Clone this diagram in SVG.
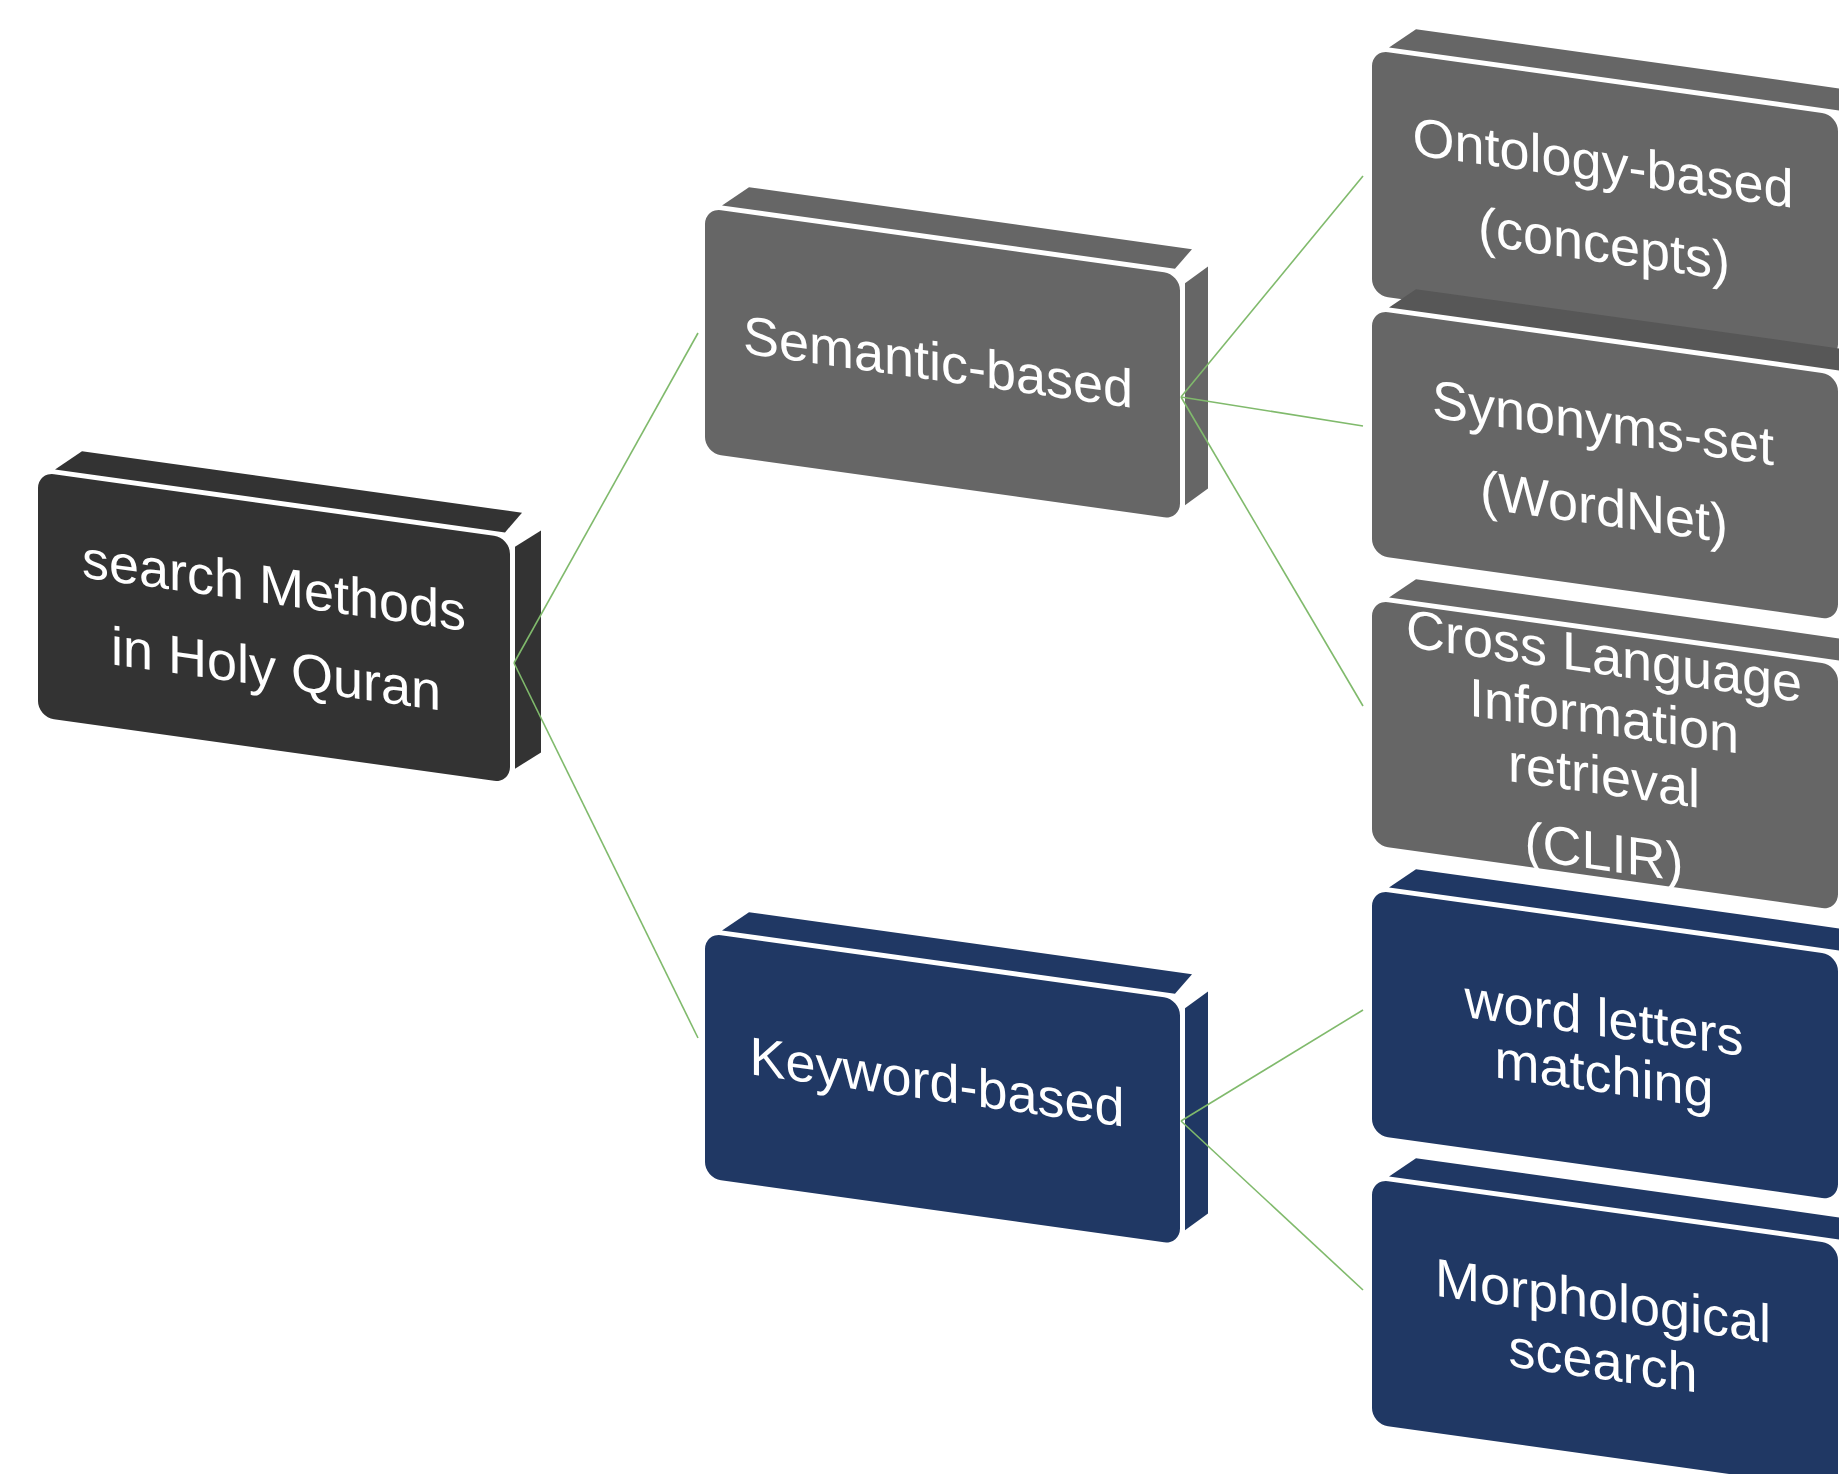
<svg xmlns="http://www.w3.org/2000/svg" width="1839" height="1474" viewBox="0 0 1839 1474">
<style>
  .lbl { font-family: "Liberation Sans", Arial, sans-serif; font-size: 54px; fill: #ffffff; text-anchor: middle; }
  .dark { fill: #333333; }
  .gray { fill: #666666; }
  .navy { fill: #203864; }
  .gap { fill: #ffffff; }
  .conn { stroke: #80ba6c; stroke-width: 1.6; fill: none; }
</style>
<rect width="1839" height="1474" fill="#ffffff"/>

<g id="node-root" transform="matrix(1 0.14 0 1 38 472)">
  <polygon class="dark" points="17,-5 44,-27 484,-27 467,-5"/>
  <polygon class="dark" points="477,8 503,-12 503,210 477,230"/>
  <rect class="gap" x="-4" y="-4" width="480" height="253" rx="20"/>
  <rect class="dark" x="0" y="0" width="472" height="245" rx="16"/>
  <text class="lbl" x="236" y="99">search Methods</text>
  <text class="lbl" x="238" y="182">in Holy Quran</text>
</g>

<g id="node-semantic" transform="matrix(1 0.14 0 1 705 208)">
  <polygon class="gray" points="17,-5 44,-27 487,-27 470,-5"/>
  <polygon class="gray" points="480,8 503,-12 503,210 480,230"/>
  <rect class="gap" x="-4" y="-4" width="483" height="253" rx="20"/>
  <rect class="gray" x="0" y="0" width="475" height="245" rx="16"/>
  <text class="lbl" x="233" y="140">Semantic-based</text>
</g>

<g id="node-keyword" transform="matrix(1 0.14 0 1 705 933)">
  <polygon class="navy" points="17,-5 44,-27 487,-27 470,-5"/>
  <polygon class="navy" points="480,8 503,-12 503,210 480,230"/>
  <rect class="gap" x="-4" y="-4" width="483" height="253" rx="20"/>
  <rect class="navy" x="0" y="0" width="475" height="245" rx="16"/>
  <text class="lbl" x="232" y="135">Keyword-based</text>
</g>

<g id="node-ontology" transform="matrix(1 0.14 0 1 1372 50)">
  <polygon class="gray" points="17,-5 44,-27 520,-27 520,-5"/>
  <rect class="gap" x="-4" y="-4" width="474" height="253" rx="20"/>
  <rect class="gray" x="0" y="0" width="466" height="245" rx="16"/>
  <text class="lbl" x="231" y="99">Ontology-based</text>
  <text class="lbl" x="232" y="180">(concepts)</text>
</g>

<g id="node-synonyms" transform="matrix(1 0.14 0 1 1372 310)">
  <polygon fill="#575757" points="17,-5 44,-27 520,-27 520,-5"/>
  <rect class="gap" x="-4" y="-4" width="474" height="253" rx="20"/>
  <rect class="gray" x="0" y="0" width="466" height="245" rx="16"/>
  <text class="lbl" x="231" y="99">Synonyms-set</text>
  <text class="lbl" x="232" y="183">(WordNet)</text>
</g>

<g id="node-clir" transform="matrix(1 0.14 0 1 1372 600)">
  <polygon class="gray" points="17,-5 44,-27 520,-27 520,-5"/>
  <rect class="gap" x="-4" y="-4" width="474" height="253" rx="20"/>
  <rect class="gray" x="0" y="0" width="466" height="245" rx="16"/>
  <text class="lbl" x="232" y="42">Cross Language</text>
  <text class="lbl" x="232" y="102">Information</text>
  <text class="lbl" x="232" y="162">retrieval</text>
  <text class="lbl" x="232" y="238">(CLIR)</text>
</g>

<g id="node-word" transform="matrix(1 0.14 0 1 1372 890)">
  <polygon class="navy" points="17,-5 44,-27 520,-27 520,-5"/>
  <rect class="gap" x="-4" y="-4" width="474" height="253" rx="20"/>
  <rect class="navy" x="0" y="0" width="466" height="245" rx="16"/>
  <text class="lbl" x="232" y="114">word letters</text>
  <text class="lbl" x="232" y="170">matching</text>
</g>

<g id="node-morph" transform="matrix(1 0.14 0 1 1372 1179)">
  <polygon class="navy" points="17,-5 44,-27 520,-27 520,-5"/>
  <rect class="gap" x="-4" y="-4" width="474" height="253" rx="20"/>
  <rect class="navy" x="0" y="0" width="466" height="245" rx="16"/>
  <text class="lbl" x="231" y="108">Morphological</text>
  <text class="lbl" x="231" y="168">scearch</text>
</g>

<g id="connectors">
  <line class="conn" x1="514" y1="663" x2="698" y2="333"/>
  <line class="conn" x1="514" y1="663" x2="698" y2="1038"/>
  <line class="conn" x1="1181" y1="397" x2="1363" y2="176"/>
  <line class="conn" x1="1181" y1="397" x2="1363" y2="426"/>
  <line class="conn" x1="1181" y1="397" x2="1363" y2="706"/>
  <line class="conn" x1="1181" y1="1121" x2="1363" y2="1010"/>
  <line class="conn" x1="1181" y1="1121" x2="1363" y2="1290"/>
</g>
</svg>
